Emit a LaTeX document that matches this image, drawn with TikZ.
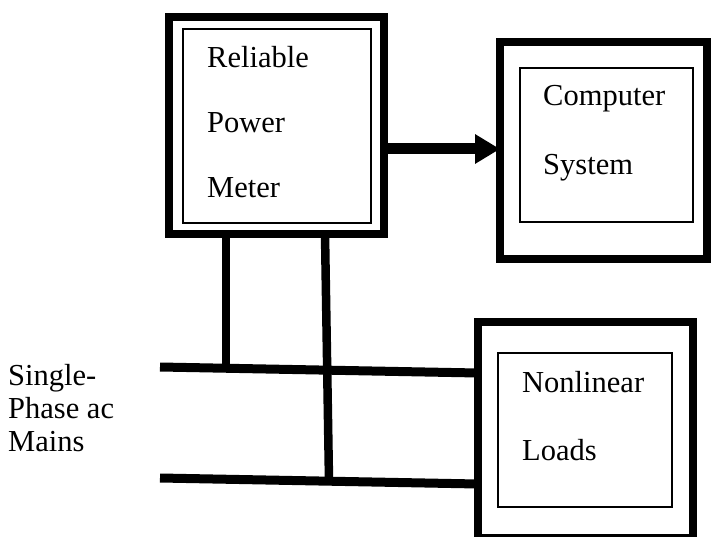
\documentclass[tikz,border=0pt]{standalone}
\usepackage{fontspec}
\setmainfont{Liberation Serif}
\usetikzlibrary{arrows.meta}
\begin{document}
\begin{tikzpicture}[x=1pt,y=-1pt,
  outerbox/.style={draw=black,line width=8.5pt,inner sep=0pt,outer sep=0pt,fill=none},
  innerbox/.style={draw=black,line width=1.6pt,inner sep=0pt,outer sep=0pt},
  lbl/.style={anchor=base west,inner sep=0pt,font=\fontsize{30.5}{36}\selectfont},
  wire/.style={line width=8.5pt,line cap=butt},
  flow/.style={line width=11pt,-{Triangle[length=25pt,width=28pt]}}]
\fill[white] (0,0) rectangle (711,537);
\useasboundingbox (0,0) rectangle (711,537);
% Reliable Power Meter
\node[outerbox,minimum width=215pt,minimum height=217pt] (meter) at (276.5,125.5) {};
\node[innerbox,minimum width=188pt,minimum height=194pt] (meterin) at (277,126) {};
\node[lbl] (m1) at (207,68) {Reliable};
\node[lbl] (m2) at (207,133) {Power};
\node[lbl] (m3) at (207,197) {Meter};
% Computer System
\node[outerbox,minimum width=207pt,minimum height=217pt] (comp) at (603.5,150.5) {};
\node[innerbox,minimum width=173pt,minimum height=154pt] (compin) at (606.5,145) {};
\node[lbl] (c1) at (543,106) {Computer};
\node[lbl] (c2) at (543,175) {System};
% Nonlinear Loads
\node[outerbox,minimum width=215pt,minimum height=216pt] (load) at (585.5,430) {};
\node[innerbox,minimum width=174pt,minimum height=154pt] (loadin) at (585,430) {};
\node[lbl] (l1) at (522,392) {Nonlinear};
\node[lbl] (l2) at (522,460) {Loads};
% Mains label
\node[lbl] (s1) at (8,385) {Single-};
\node[lbl] (s2) at (8,418) {Phase ac};
\node[lbl] (s3) at (8,451) {Mains};
% coordinates
\coordinate (ay) at (0,149);
\coordinate (topL) at (160,367);
\coordinate (topRy) at (0,373);
\coordinate (botL) at (160,478);
\coordinate (botRy) at (0,484);
\coordinate (v1x) at (226,0);
\coordinate (v1b) at (226,368.5);
\coordinate (v2x) at (325,0);
\coordinate (v2b) at (329,481.5);
% arrow
\draw[flow] (meter.east |- ay) -- (comp.west |- ay);
% buses
\draw[wire,line width=9pt] (topL) -- (load.west |- topRy);
\draw[wire,line width=9pt] (botL) -- (load.west |- botRy);
% taps
\draw[wire] (meter.south -| v1x) -- (v1b);
\draw[wire] (meter.south -| v2x) -- (v2b);
\end{tikzpicture}
\end{document}
